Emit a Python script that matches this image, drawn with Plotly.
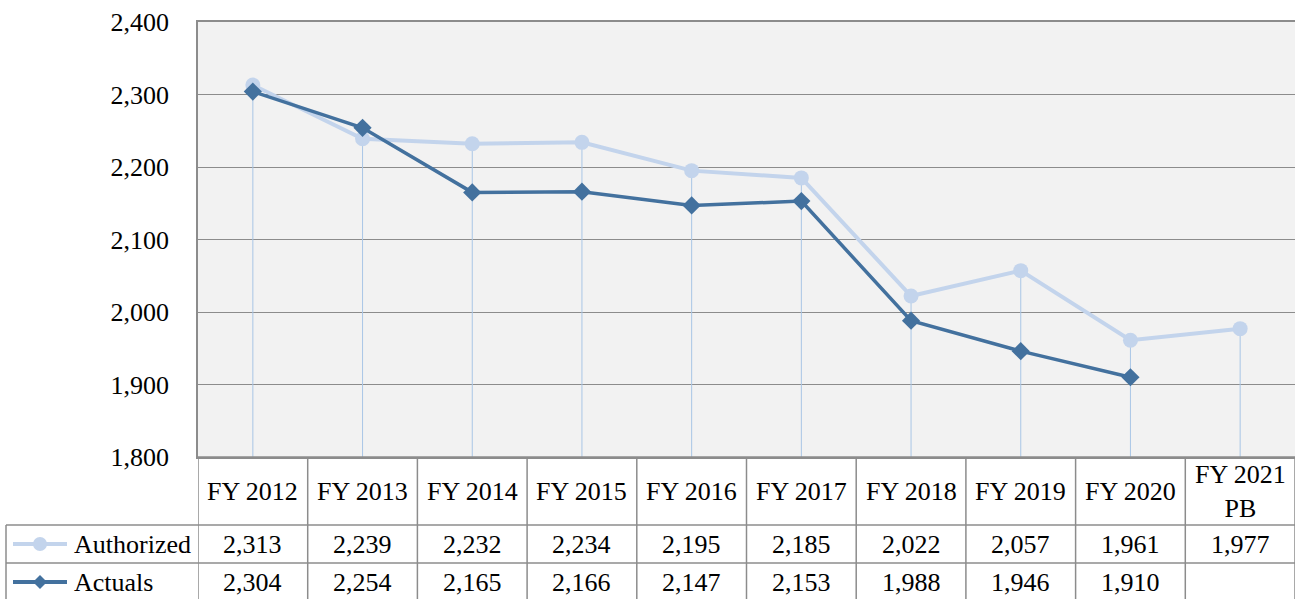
import plotly.graph_objects as go

categories = ["FY 2012", "FY 2013", "FY 2014", "FY 2015", "FY 2016", "FY 2017",
              "FY 2018", "FY 2019", "FY 2020", "FY 2021<br>PB"]
authorized = [2313, 2239, 2232, 2234, 2195, 2185, 2022, 2057, 1961, 1977]
actuals = [2304, 2254, 2165, 2166, 2147, 2153, 1988, 1946, 1910, None]
y_ticks = [1800, 1900, 2000, 2100, 2200, 2300, 2400]

AUTH_COLOR = "#C3D4EC"
ACT_COLOR = "#43719E"
DROP_COLOR = "#A9C6E6"
GRID_COLOR = "#8C8C8C"
BORDER = "#8C8C8C"
FONT = "Liberation Serif, Times New Roman, serif"
FS = 26

W, H = 1303, 599
L, R, T, B = 198, 8, 22, 142
PW, PH = W - L - R, H - T - B


def px(x):
    return (x - L) / PW


def py(y):
    return (H - B - y) / PH


n = len(categories)
idx = list(range(n))

# drop lines from the highest point down to the axis floor
drop_x, drop_y = [], []
for i in idx:
    vals = [v for v in (authorized[i], actuals[i]) if v is not None]
    drop_x += [i, i, None]
    drop_y += [y_ticks[0], max(vals), None]

fig = go.Figure()
fig.add_trace(go.Scatter(x=drop_x, y=drop_y, mode="lines",
                         line=dict(color=DROP_COLOR, width=1),
                         hoverinfo="skip", showlegend=False))
fig.add_trace(go.Scatter(x=idx, y=authorized, mode="lines+markers", name="Authorized",
                         line=dict(color=AUTH_COLOR, width=4),
                         marker=dict(symbol="circle", size=15, color=AUTH_COLOR),
                         showlegend=False))
fig.add_trace(go.Scatter(x=idx, y=actuals, mode="lines+markers", name="Actuals",
                         line=dict(color=ACT_COLOR, width=3.5),
                         marker=dict(symbol="diamond", size=14, color=ACT_COLOR),
                         showlegend=False))

shapes = []
annotations = []

row_top = py(457)
row_h1 = py(525)
row_h2 = py(563)
row_bot = py(601)
left_col = px(6)

txt = dict(family=FONT, size=FS, color="black")

# horizontal table lines
shapes.append(dict(type="line", xref="x", yref="paper", x0=-0.5, x1=n - 0.5,
                   y0=row_top, y1=row_top, line=dict(color=BORDER, width=1.5)))
for yy in (row_h1, row_h2):
    shapes.append(dict(type="line", xref="paper", yref="paper", x0=left_col, x1=1,
                       y0=yy, y1=yy, line=dict(color=BORDER, width=1.5)))
# vertical table lines
for i in range(n + 1):
    shapes.append(dict(type="line", xref="x", yref="paper", x0=i - 0.5, x1=i - 0.5,
                       y0=row_top, y1=row_bot, line=dict(color=BORDER, width=1.5)))
shapes.append(dict(type="line", xref="paper", yref="paper", x0=left_col, x1=left_col,
                   y0=row_h1, y1=row_bot, line=dict(color=BORDER, width=1.5)))

# header and values
for i, c in enumerate(categories):
    annotations.append(dict(x=i, y=(row_top + row_h1) / 2, xref="x", yref="paper",
                            xanchor="center", yanchor="middle",
                            text=c, showarrow=False, font=txt))
    annotations.append(dict(x=i, y=(row_h1 + row_h2) / 2, xref="x", yref="paper",
                            xanchor="center", yanchor="middle",
                            text=f"{authorized[i]:,}", showarrow=False, font=txt))
    if actuals[i] is not None:
        annotations.append(dict(x=i, y=(row_h2 + row_bot) / 2, xref="x", yref="paper",
                                xanchor="center", yanchor="middle",
                                text=f"{actuals[i]:,}", showarrow=False, font=txt))

# legend keys
for name, color, sym, ymid in (("Authorized", AUTH_COLOR, "circle", (row_h1 + row_h2) / 2),
                               ("Actuals", ACT_COLOR, "diamond", (row_h2 + row_bot) / 2)):
    shapes.append(dict(type="line", xref="paper", yref="paper", x0=px(13), x1=px(67),
                       y0=ymid, y1=ymid, line=dict(color=color, width=4)))
    cx = 40
    cy = H - B - ymid * PH
    r = 7
    if sym == "circle":
        shapes.append(dict(type="circle", xref="paper", yref="paper",
                           x0=px(cx - r), x1=px(cx + r), y0=py(cy - r), y1=py(cy + r),
                           fillcolor=color, line=dict(width=0)))
    else:
        path = (f"M {px(cx)} {py(cy - r)} L {px(cx + r)} {py(cy)} "
                f"L {px(cx)} {py(cy + r)} L {px(cx - r)} {py(cy)} Z")
        shapes.append(dict(type="path", xref="paper", yref="paper", path=path,
                           fillcolor=color, line=dict(width=0)))
    annotations.append(dict(x=px(72), y=ymid, xref="paper", yref="paper", text=name,
                            xanchor="left", yanchor="middle", showarrow=False, font=txt))

fig.update_layout(
    width=W, height=H,
    margin=dict(l=L, r=R, t=T, b=B, pad=0, autoexpand=False),
    paper_bgcolor="white", plot_bgcolor="#F2F2F2",
    shapes=shapes, annotations=annotations,
    xaxis=dict(range=[-0.5, n - 0.5], showticklabels=False, showgrid=False,
               zeroline=False, showline=True, mirror=True, linecolor=BORDER, linewidth=1.5,
               fixedrange=True),
    yaxis=dict(range=[y_ticks[0], y_ticks[-1]], tickvals=y_ticks,
               ticktext=[f"{v:,}" for v in y_ticks], showgrid=True, gridcolor=GRID_COLOR,
               gridwidth=1, zeroline=False, showline=True, linecolor=BORDER, linewidth=1.5,
               ticks="", ticklabelstandoff=22, automargin=False,
               tickfont=dict(family=FONT, size=FS, color="black")),
)

fig.write_html("out.html", config={"displayModeBar": False},
               post_script="document.body.style.margin='0';document.body.style.overflow='hidden';")
